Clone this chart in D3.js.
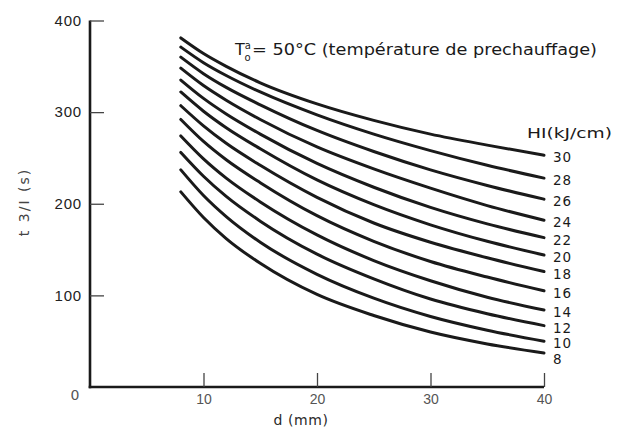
<!DOCTYPE html>
<html>
<head>
<meta charset="utf-8">
<script src="https://cdn.jsdelivr.net/npm/d3@7"></script>
<style>
  html, body { margin: 0; padding: 0; background: #fff; }
  svg { display: block; font-family: "DejaVu Sans", "Noto Sans", sans-serif; }
</style>
</head>
<body>
<svg id="chart" width="623" height="430"></svg>
<script>
// Plate thickness d (mm) at which each curve is sampled
const thickness = [8, 10, 12, 15, 20, 25, 30, 35, 40];

// Heat input HI (kJ/cm) of each curve
const heatInput = [30, 28, 26, 24, 22, 20, 18, 16, 14, 12, 10, 8];

// Cooling time t (s) for each heat input, sampled at the thicknesses above
const hi30 = [381, 364, 350, 332, 309, 291, 276, 264, 253];
const hi28 = [371, 354, 340, 322, 297, 276, 258, 242, 228];
const hi26 = [360, 342, 327, 308, 280, 257, 237, 220, 205];
const hi24 = [348, 329, 313, 292, 262, 238, 217, 198, 182];
const hi22 = [335, 315, 298, 276, 244, 218, 196, 178, 163];
const hi20 = [322, 301, 283, 260, 226, 199, 177, 159, 144];
const hi18 = [307, 285, 266, 242, 207, 179, 158, 141, 126];
const hi16 = [292, 268, 248, 223, 187, 159, 137, 120, 105];
const hi14 = [274, 249, 228, 202, 166, 138, 116, 98, 84];
const hi12 = [256, 230, 208, 181, 145, 118, 96, 80, 67];
const hi10 = [237, 209, 186, 158, 123, 97, 77, 62, 50];
const hi8  = [213, 185, 162, 135, 101, 78, 60, 47, 37];
const curves = [hi30, hi28, hi26, hi24, hi22, hi20, hi18, hi16, hi14, hi12, hi10, hi8];

// Axis ticks
const xTicks = [10, 20, 30, 40];
const yTicks = [100, 200, 300, 400];

const svg = d3.select("#chart");
const ink = "#1a1a1a";

const x = d3.scaleLinear().domain([0, 40]).range([90, 544]);
const y = d3.scaleLinear().domain([0, 400]).range([387, 20.5]);

// Axes with inward ticks
const gy = svg.append("g")
  .attr("transform", `translate(${x(0)},0)`)
  .call(d3.axisLeft(y).tickValues(yTicks).tickSizeInner(-14).tickSizeOuter(0).tickPadding(8));
const gx = svg.append("g")
  .attr("transform", `translate(0,${y(0)})`)
  .call(d3.axisBottom(x).tickValues(xTicks).tickSizeInner(-14).tickSizeOuter(0).tickPadding(7));

[gy, gx].forEach(g => {
  g.select(".domain").attr("stroke", ink).attr("stroke-width", 2.6);
  g.selectAll(".tick line").attr("stroke", "#444").attr("stroke-width", 1.3);
  g.selectAll(".tick text").attr("fill", "#222").attr("font-size", 15).attr("letter-spacing", 0.8);
});
gy.select(".domain").attr("d", `M0,${y(0) + 1.3}V${y(400)}`);
gx.select(".domain").attr("d", `M${x(0) - 1.3},0H${x(40)}`);
gx.selectAll(".tick text").attr("fill", "#555").attr("font-size", 14).attr("letter-spacing", 0);

// Origin label
svg.append("text")
  .attr("x", x(0) - 15).attr("y", y(0) + 13)
  .attr("text-anchor", "middle").attr("font-size", 14).attr("fill", "#555")
  .text("0");

// Axis titles
svg.append("text")
  .attr("x", 301).attr("y", 425)
  .attr("text-anchor", "middle").attr("font-size", 14).attr("fill", "#2a2a2a")
  .attr("letter-spacing", 0.6)
  .text("d (mm)");
svg.append("text")
  .attr("transform", "translate(29,202) rotate(-90)")
  .attr("text-anchor", "middle").attr("font-size", 14).attr("fill", "#444")
  .attr("letter-spacing", 2)
  .text("t 3/I (s)");

// Curves
const line = d3.line()
  .x((d, i) => x(thickness[i]))
  .y(d => y(d))
  .curve(d3.curveMonotoneX);

svg.append("g")
  .selectAll("path")
  .data(curves)
  .join("path")
  .attr("d", line)
  .attr("fill", "none")
  .attr("stroke", ink)
  .attr("stroke-width", 3)
  .attr("stroke-linecap", "round");

// Curve labels at the right-hand ends, kept at least one line apart
const labelY = [];
curves.forEach((c, i) => {
  let ly = y(c[c.length - 1]) + 7;
  if (i > 0 && ly < labelY[i - 1] + 15.5) ly = labelY[i - 1] + 15.5;
  labelY.push(ly);
});
svg.append("g")
  .selectAll("text")
  .data(heatInput)
  .join("text")
  .attr("x", 553)
  .attr("y", (d, i) => labelY[i])
  .attr("font-size", 13.5)
  .attr("letter-spacing", 1)
  .attr("fill", ink)
  .text(d => d);

svg.append("text")
  .attr("x", 527).attr("y", 138)
  .attr("font-size", 14).attr("fill", ink)
  .attr("textLength", 85).attr("lengthAdjust", "spacingAndGlyphs")
  .text("HI(kJ/cm)");

// Preheat temperature note
const note = svg.append("text")
  .attr("x", 235).attr("y", 55)
  .attr("font-size", 16).attr("fill", ink);
note.append("tspan").text("T");
note.append("tspan").attr("font-size", 10).attr("dy", -6).text("a");
note.append("tspan").attr("font-size", 10).attr("dx", -6.5).attr("dy", 12).text("o");
svg.append("text")
  .attr("x", 252).attr("y", 55)
  .attr("font-size", 15).attr("fill", ink)
  .attr("textLength", 345).attr("lengthAdjust", "spacingAndGlyphs")
  .text("= 50°C (température de prechauffage)");
</script>
</body>
</html>
